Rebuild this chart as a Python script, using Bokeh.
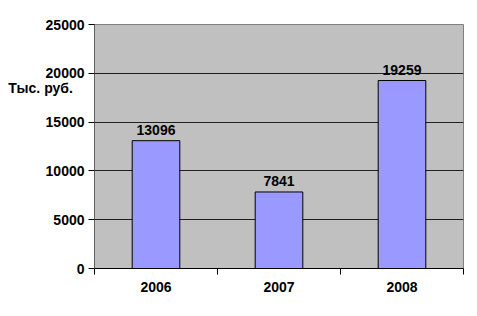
from bokeh.plotting import figure
from bokeh.embed import file_html
from bokeh.resources import INLINE
from bokeh.models import FixedTicker, Range1d, ColumnDataSource
from bokeh.core.properties import value

years = ["2006", "2007", "2008"]
values = [13096, 7841, 19259]
y_ticks = [0, 5000, 10000, 15000, 20000, 25000]
y_title = "Тыс. руб."
y_title_at = 18450  # vertical place of the horizontal axis title

FONT = "Liberation Sans"
FS = "14px"
xs = [i + 0.5 for i in range(len(years))]

p = figure(width=469, height=308, output_backend="svg", toolbar_location=None,
           x_range=Range1d(0, len(years)), y_range=Range1d(0, 25000),
           min_border_left=94, min_border_right=6, min_border_top=24, min_border_bottom=40)
p.background_fill_color = "#C0C0C0"
p.border_fill_color = "white"
p.outline_line_color = "#808080"
p.outline_line_width = 1

src = ColumnDataSource(dict(x=xs, top=values, lab=[str(v) for v in values]))
p.vbar(x="x", top="top", bottom=0, width=0.387, source=src,
       fill_color="#9999FF", line_color="black", line_width=1)
p.text(x="x", y="top", text="lab", source=src, text_align="center", text_baseline="bottom",
       y_offset=-6, text_font=value(FONT), text_font_style="bold", text_font_size=FS,
       text_color="black")

p.xgrid.visible = False
p.ygrid.ticker = FixedTicker(ticks=y_ticks)
p.ygrid.grid_line_color = "#202020"
p.ygrid.grid_line_width = 1

xa = p.xaxis[0]
xa.ticker = FixedTicker(ticks=xs, minor_ticks=list(range(len(years) + 1)))
xa.major_label_overrides = {x: y for x, y in zip(xs, years)}
xa.major_tick_line_color = None
xa.major_tick_out = 0
xa.major_tick_in = 0
xa.minor_tick_line_color = "black"
xa.minor_tick_out = 6
xa.minor_tick_in = 0
xa.axis_line_color = "black"
xa.major_label_standoff = 7
xa.major_label_text_font = FONT
xa.major_label_text_font_style = "bold"
xa.major_label_text_font_size = FS
xa.major_label_text_color = "black"

ya = p.yaxis[0]
ya.ticker = FixedTicker(ticks=y_ticks + [y_title_at], minor_ticks=y_ticks)
ya.major_label_overrides = {y_title_at: y_title + "\u00a0\u00a0\u00a0"}
ya.major_tick_line_color = None
ya.major_tick_out = 6
ya.major_tick_in = 0
ya.minor_tick_line_color = "black"
ya.minor_tick_out = 6
ya.minor_tick_in = 0
ya.axis_line_color = "#606060"
ya.major_label_standoff = 4
ya.major_label_text_font = FONT
ya.major_label_text_font_style = "bold"
ya.major_label_text_font_size = FS
ya.major_label_text_color = "black"

open("out.html", "w").write(file_html(p, INLINE))
